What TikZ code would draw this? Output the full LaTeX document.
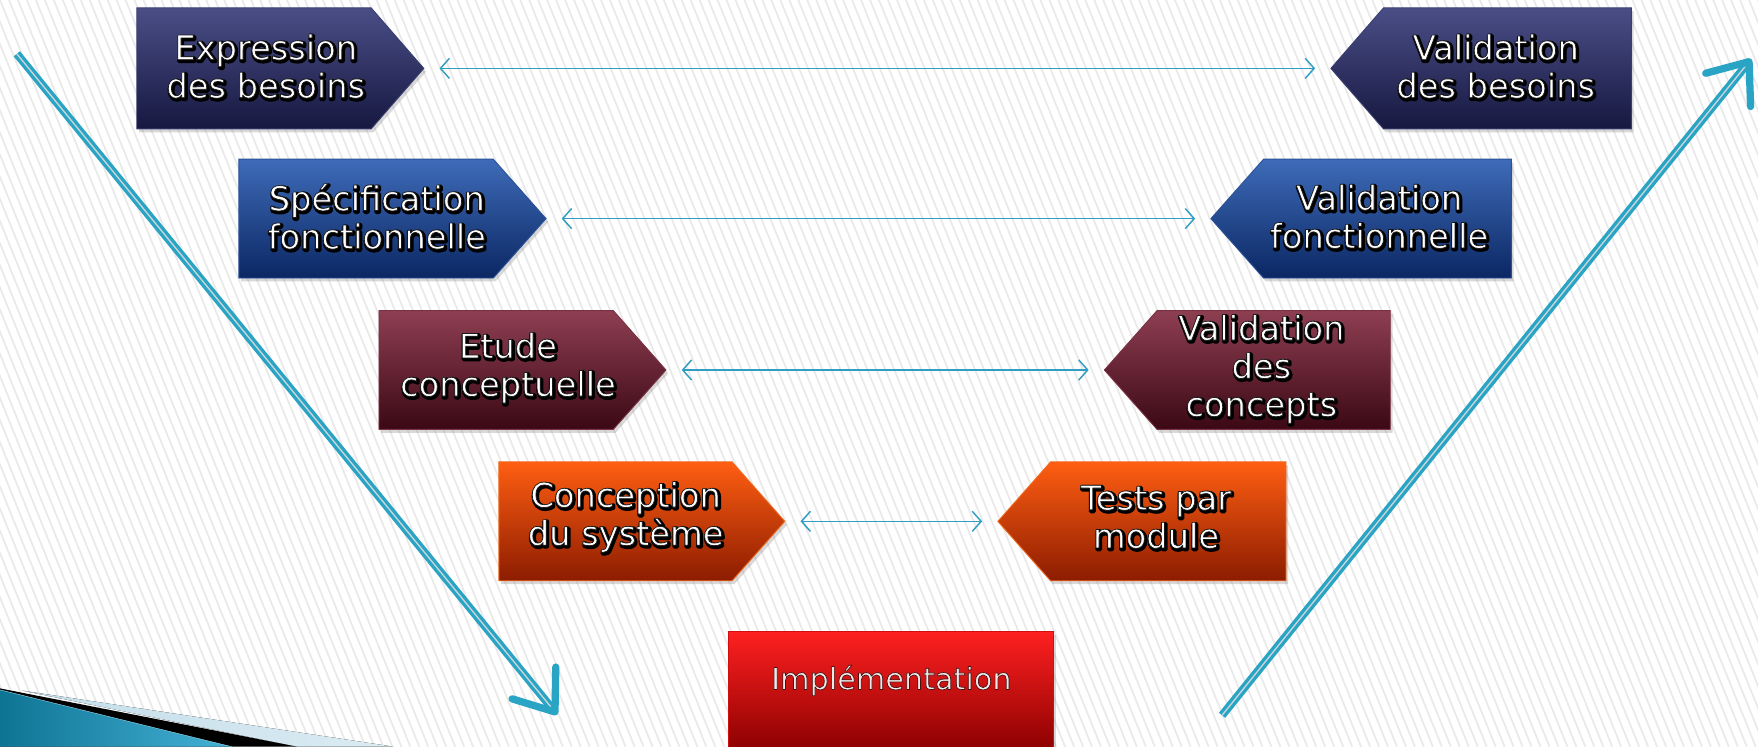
\documentclass[tikz,border=0pt]{standalone}
\usepackage{fontspec}
\setmainfont{DejaVu Sans}
\usetikzlibrary{arrows.meta,shadows,calc}
\definecolor{navyT}{HTML}{4A4E86}\definecolor{navyB}{HTML}{161840}\definecolor{navyE}{HTML}{3A3E70}
\definecolor{blueT}{HTML}{3E6BB8}\definecolor{blueB}{HTML}{0B2763}\definecolor{blueE}{HTML}{2A5298}
\definecolor{marT}{HTML}{8E3F52}\definecolor{marB}{HTML}{3B0814}\definecolor{marE}{HTML}{7A3045}
\definecolor{orT}{HTML}{FF5E12}\definecolor{orB}{HTML}{8C1C00}\definecolor{orE}{HTML}{F06A1E}
\definecolor{redT}{HTML}{FF2020}\definecolor{redB}{HTML}{8A0000}\definecolor{redE}{HTML}{D01010}
\definecolor{connc}{HTML}{2F9EC2}
\definecolor{bigc}{HTML}{2AA4C4}
\definecolor{innerc}{HTML}{C9D6DA}
\definecolor{stripec}{HTML}{E9E9E9}
\definecolor{swA}{HTML}{0E7494}\definecolor{swB}{HTML}{45B2D6}\definecolor{swL}{HTML}{C3DEEA}
\newcommand\shw[1]{\special{pdf:literal direct 0 0 0 RG 1 j 2 Tr 3.4 w}#1\special{pdf:literal direct 0 Tr 0.4 w}}
\newcommand\fgw[1]{\special{pdf:literal direct 0.1 0.1 0.1 RG 1 j 2 Tr 0.6 w}#1\special{pdf:literal direct 0 Tr 0.4 w}}
\newcommand\outlthin[1]{\special{pdf:literal direct 0.3 0.05 0.05 RG 1 j 2 Tr 0.6 w}#1\special{pdf:literal direct 0 Tr 0.4 w}}
\tikzset{
 lbl/.style={align=center, inner sep=0pt, text=white, font=\fontsize{30}{34}\selectfont},
 conn/.style={draw=connc, line width=1.3pt,
   {Straight Barb[length=8pt,width=18pt]}-{Straight Barb[length=8pt,width=18pt]},
   shorten <=14pt, shorten >=14pt},
 shaft/.style={draw=bigc, line width=3pt, double=innerc, double distance=1.2pt, shorten >=3pt},
 bighead/.style={draw=bigc, line width=6.5pt, line cap=round, line join=round},
 box/.style={drop shadow={opacity=0.3, shadow xshift=2pt, shadow yshift=-3pt}, line width=0.8pt},
}
\newcommand\otxt[4]{%
 \global\let\lnw\shw
 \node[lbl,text=black] (#1s) at ([shift={(1.1pt,-1.4pt)}]#2,#3) {#4};
 \global\let\lnw\fgw
 \node[lbl] (#1) at (#2,#3) {#4};}
\begin{document}
\begin{tikzpicture}[x=1pt,y=1pt]
\useasboundingbox (0,0) rectangle (1568,666);
\clip (0,0) rectangle (1568,666);
\fill[white] (0,0) rectangle (1568,666);
\foreach \i in {-280,-272,...,1568}
  \draw[stripec, line width=1.5pt] (\i,666) -- ++(270,-666);
% bottom-left swoosh
\fill[left color=swA, right color=swB] (0,0) -- (0,51) -- (208,0) -- cycle;
\draw[swB!60!white, line width=1pt] (0,51) -- (208,0);
\fill[left color=swL, right color=swL!60!white] (20,50) -- (351,0) -- (265,0) -- cycle;
\fill[black] (0,52) -- (265,0) -- (208,0) -- (0,51) -- cycle;
% boxes
\path[box, top color=navyT, bottom color=navyB, draw=navyE] (122,551) -- (331,551) -- (378,605) -- (331,659) -- (122,659) -- cycle;
\coordinate (ebt) at (378,605);
\path[box, top color=navyT, bottom color=navyB, draw=navyE] (1455,551) -- (1234,551) -- (1187,605) -- (1234,659) -- (1455,659) -- cycle;
\coordinate (vbt) at (1187,605);
\path[box, top color=blueT, bottom color=blueB, draw=blueE] (213,418) -- (440,418) -- (487,471) -- (440,524) -- (213,524) -- cycle;
\coordinate (sft) at (487,471);
\path[box, top color=blueT, bottom color=blueB, draw=blueE] (1348,418) -- (1127,418) -- (1080,471) -- (1127,524) -- (1348,524) -- cycle;
\coordinate (vft) at (1080,471);
\path[box, top color=marT, bottom color=marB, draw=marE] (338,283) -- (547,283) -- (594,336) -- (547,389) -- (338,389) -- cycle;
\coordinate (ect) at (594,336);
\path[box, top color=marT, bottom color=marB, draw=marE] (1240,283) -- (1032,283) -- (985,336) -- (1032,389) -- (1240,389) -- cycle;
\coordinate (vct) at (985,336);
\path[box, top color=orT, bottom color=orB, draw=orE] (445,148) -- (653,148) -- (700,201) -- (653,254) -- (445,254) -- cycle;
\coordinate (cst) at (700,201);
\path[box, top color=orT, bottom color=orB, draw=orE] (1147,148) -- (937,148) -- (890,201) -- (937,254) -- (1147,254) -- cycle;
\coordinate (tmt) at (890,201);
\path[box, top color=redT, bottom color=redB, draw=redE] (650,-5) rectangle (940,103);
% texts
\otxt{eb}{237}{607}{\lnw{Expression}\\\lnw{des besoins}}
\otxt{vb}{1334}{607}{\lnw{Validation}\\\lnw{des besoins}}
\otxt{sf}{336}{473}{\lnw{Spécification}\\\lnw{fonctionnelle}}
\otxt{vf}{1230}{473}{\lnw{Validation}\\\lnw{fonctionnelle}}
\otxt{ec}{453}{338}{\lnw{Etude}\\\lnw{conceptuelle}}
\otxt{vc}{1125}{337}{\lnw{Validation}\\\lnw{des}\\\lnw{concepts}}
\otxt{cs}{558}{205}{\lnw{Conception}\\\lnw{du système}}
\otxt{tm}{1031}{205}{\lnw{Tests par}\\\lnw{module}}
\node[lbl, text=black!8, font=\fontsize{27}{32}\selectfont] (im) at (795,59) {\outlthin{Implémentation}};
% connectors
\draw[conn] (ebt) -- (vbt);
\draw[conn] (sft) -- (vft);
\draw[conn] (ect) -- (vct);
\draw[conn] (cst) -- (tmt);
% big arrows
\coordinate (ls) at (15,618);
\coordinate (le) at (495,31);
\draw[shaft] (ls) -- (le);
\draw[bighead] ([shift={(89:40pt)}]le) -- (le) -- ([shift={(163:40pt)}]le);
\coordinate (rs) at (1090,28);
\coordinate (re) at (1560,611);
\draw[shaft] (rs) -- (re);
\draw[bighead] ([shift={(195:40pt)}]re) -- (re) -- ([shift={(272:40pt)}]re);
\end{tikzpicture}
\end{document}
